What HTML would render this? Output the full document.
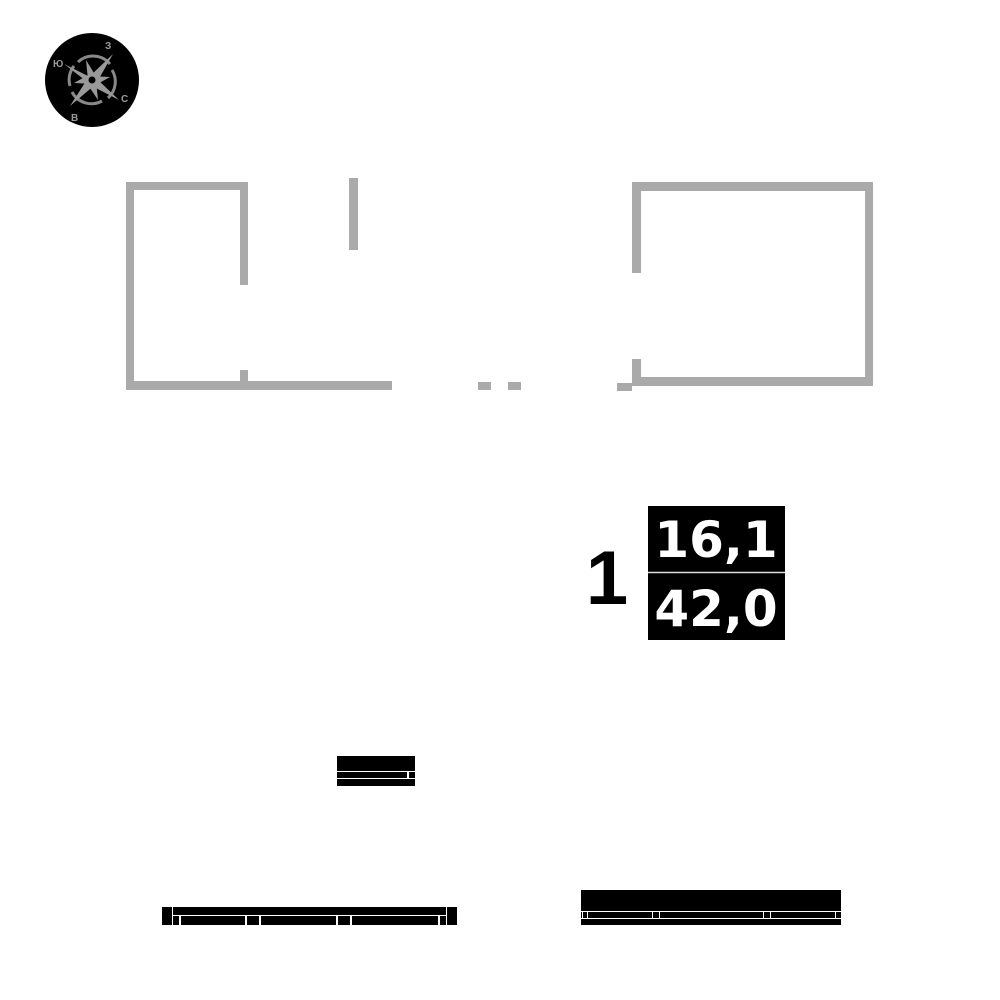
<!DOCTYPE html>
<html><head><meta charset="utf-8"><style>
html,body{margin:0;padding:0;background:#fff;width:1000px;height:1000px;overflow:hidden}
</style></head><body>
<svg width="1000" height="1000" viewBox="0 0 1000 1000" xmlns="http://www.w3.org/2000/svg">
<!-- compass -->
<circle cx="92" cy="80" r="47" fill="#000"/>
<g fill="none" stroke="#888" stroke-width="3">
<path d="M78 62 A22 22 0 0 1 110 64"/>
<path d="M112 70 A22 22 0 0 1 108 98"/>
<path d="M102 101 A22 22 0 0 1 72 92"/>
<path d="M70 86 A22 22 0 0 1 74 66"/>
</g>
<g fill="#999">
<polygon points="88,78 113,54 96,84"/>
<polygon points="96,78 119,100 88,84"/>
<polygon points="88,78 70,106 96,84"/>
<polygon points="96,80 64,64 90,84"/>
<polygon points="88,80 86,60 97,78"/>
<polygon points="90,76 110,77 94,86"/>
<polygon points="96,80 98,100 86,82"/>
<polygon points="94,84 74,83 90,74"/>
</g>
<circle cx="92" cy="80" r="4.5" fill="#000" stroke="#999" stroke-width="2"/>
<g fill="#999" font-family="Liberation Sans, DejaVu Sans, sans-serif" font-weight="bold" font-size="10">
<text x="105" y="49">З</text>
<text x="53" y="67">Ю</text>
<text x="121" y="102">С</text>
<text x="71" y="121">В</text>
</g>
<!-- walls -->
<g fill="#aaa">
<rect x="126" y="182" width="122" height="8"/>
<rect x="126" y="182" width="8" height="208"/>
<rect x="240" y="182" width="8" height="103"/>
<rect x="240" y="370" width="8" height="14"/>
<rect x="126" y="381" width="266" height="9"/>
<rect x="349" y="178" width="9" height="72"/>
<rect x="478" y="382" width="13" height="8"/>
<rect x="508" y="382" width="13" height="8"/>
<rect x="617" y="383" width="15" height="8"/>
<rect x="632" y="182" width="241" height="9"/>
<rect x="632" y="182" width="9" height="91"/>
<rect x="865" y="182" width="8" height="204"/>
<rect x="632" y="377" width="241" height="9"/>
<rect x="632" y="359" width="9" height="27"/>
</g>
<!-- label -->
<text x="607" y="604" text-anchor="middle" font-family="Liberation Sans, DejaVu Sans, sans-serif" font-weight="bold" font-size="76">1</text>
<rect x="648" y="506" width="137" height="134" fill="#000"/>
<line x1="648" y1="572.5" x2="785" y2="572.5" stroke="#ddd" stroke-width="1.5"/>
<g fill="#fff" font-family="DejaVu Sans, Liberation Sans, sans-serif" font-weight="bold" font-size="50" text-anchor="middle">
<text x="716" y="557">16,1</text>
<text x="716" y="626">42,0</text>
</g>
<!-- furniture small -->
<g fill="#000">
<rect x="337" y="756" width="78" height="15"/>
<rect x="337" y="772" width="70" height="6"/>
<rect x="409" y="772" width="6" height="6"/>
<rect x="337" y="779" width="78" height="7"/>
</g>
<!-- bottom left -->
<g fill="#000">
<rect x="162" y="907" width="10" height="18"/>
<rect x="447" y="907" width="10" height="18"/>
<rect x="173" y="907" width="273" height="8"/>
<rect x="173" y="916" width="6" height="9"/>
<rect x="181" y="916" width="64" height="9"/>
<rect x="247" y="916" width="12" height="9"/>
<rect x="261" y="916" width="75" height="9"/>
<rect x="338" y="916" width="12" height="9"/>
<rect x="352" y="916" width="86" height="9"/>
<rect x="440" y="916" width="6" height="9"/>
</g>
<!-- bottom right -->
<g fill="#000">
<rect x="581" y="890" width="260" height="21"/>
<rect x="581" y="912" width="260" height="6"/>
<rect x="581" y="919" width="260" height="6"/>
</g>
<g fill="none" stroke="#fff" stroke-width="1">
<rect x="582.5" y="911.5" width="5" height="7"/>
<rect x="652.5" y="911.5" width="7" height="7"/>
<rect x="763.5" y="911.5" width="7" height="7"/>
<rect x="835.5" y="911.5" width="6" height="7"/>
</g>
</svg>
</body></html>
